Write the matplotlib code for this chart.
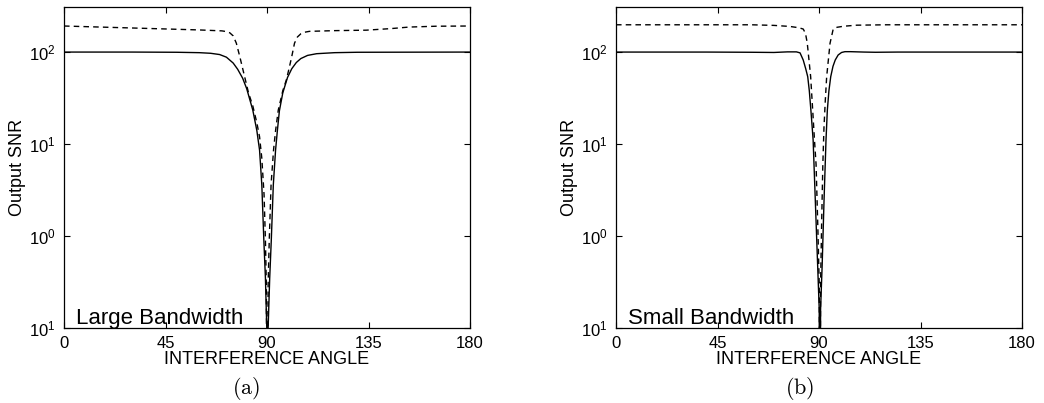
import numpy as np
import matplotlib
matplotlib.use("Agg")
import matplotlib.pyplot as plt
from matplotlib.ticker import FixedLocator, FixedFormatter, NullLocator

plt.rcParams["font.family"] = ["Liberation Sans", "DejaVu Sans"]
plt.rcParams["mathtext.fontset"] = "custom"
plt.rcParams["mathtext.rm"] = "Liberation Sans"
plt.rcParams["mathtext.it"] = "Liberation Sans:italic"

# (a) large bandwidth
ang_a_solid = [0, 30, 50, 60, 65, 69, 72, 75, 77, 79.2, 81, 83.7, 85.5, 86.7, 87.7,
               88.6, 89.3, 89.9, 90.1, 90.5, 91.2, 91.9, 92.8, 93.8, 94.6, 95.5, 97,
               99.1, 101, 103, 105, 108, 112, 120, 130, 180]
snr_a_solid = [100, 100, 99.5, 98.5, 97, 94, 88, 76, 65, 52, 40, 23.4, 14, 8.6, 3.6,
               0.9, 0.35, 0.1, 0.001, 0.1, 0.35, 0.9, 3.6, 8.6, 14, 23, 36,
               53, 66, 77, 85, 92, 96, 98.5, 99.5, 100]
ang_a_dash = [0, 36, 60, 70, 72, 73.5, 75, 76.4, 78, 80, 81.8, 83.7, 85.5, 86.7,
              87.7, 88.7, 89.3, 89.7, 90.1, 90.5, 91.0, 91.8, 92.9, 93.8, 95.0, 97,
              98.6, 100, 101, 102.2, 103.5, 105, 106.5, 108.8, 120, 134, 145, 153, 165, 180]
snr_a_dash = [192, 181, 174, 170, 167, 162, 150, 125, 88, 55, 36, 26, 17, 12,
              7, 2.8, 0.9, 0.3, 0.001, 0.3, 0.9, 3.6, 8.6, 14, 23.4, 38,
              50, 70, 90, 125, 146, 158, 164, 168, 171, 173, 180, 187, 191, 192]

# (b) small bandwidth
ang_b_solid = [0, 40, 60, 70, 76, 80, 81.6, 83, 84.1, 85.0, 85.7, 86.4, 87.0, 87.4,
               88.4, 89.4, 90.1, 90.4, 90.7, 91.4, 92.2, 93.1, 93.7, 94.4, 95.2, 96.2,
               97.2, 98.5, 100, 101.5, 104, 110, 115, 125, 180]
snr_b_solid = [100, 100, 99.5, 99, 100.5, 100.5, 98, 82, 66, 54, 38, 23.4, 15, 11,
               2.3, 0.48, 0.16, 0.001, 0.16, 0.48, 2.3, 11, 23.4, 38, 54, 70,
               82, 93, 99, 101, 101, 100, 99.5, 100, 100]
ang_b_dash = [0, 60, 70, 77, 81, 83, 84, 84.8, 85.6, 86.3, 87.2, 88.0, 88.7, 89.5,
              90.1, 90.4, 90.7, 91.2, 91.7, 92.2, 92.8, 93.4, 94.9, 96.3, 98, 101,
              106.7, 120, 180]
snr_b_dash = [198, 198, 195, 190, 184, 178, 160, 125, 80, 54, 23.4, 11, 6, 1.2,
              0.3, 0.001, 0.3, 1.5, 6, 15, 30, 54, 125, 178, 186, 191,
              196, 198, 198]

panels = [
    (ang_a_solid, snr_a_solid, ang_a_dash, snr_a_dash, "Large Bandwidth", "(a)"),
    (ang_b_solid, snr_b_solid, ang_b_dash, snr_b_dash, "Small Bandwidth", "(b)"),
]
xticks = [0, 45, 90, 135, 180]
yticks = [1e-1, 1e0, 1e1, 1e2]
ylabels = ["$10^{1}$", "$10^{0}$", "$10^{1}$", "$10^{2}$"]

fig = plt.figure(figsize=(10.44, 4.03), dpi=100)
lefts = [64 / 1044, 616 / 1044]
caption_x = [246 / 1044, 800 / 1044]

for i, (xs, ys, xd, yd, name, tag) in enumerate(panels):
    ax = fig.add_axes([lefts[i], 1 - 328 / 403, 406 / 1044, 321 / 403])
    ax.plot(xs, ys, color="black", lw=1.0)
    ax.plot(xd, yd, color="black", lw=1.0, linestyle=(0, (4, 3)))
    ax.set_yscale("log")
    ax.set_xlim(0, 180)
    ax.set_ylim(1e-1, 10 ** 2.49)
    ax.xaxis.set_major_locator(FixedLocator(xticks))
    ax.yaxis.set_major_locator(FixedLocator(yticks))
    ax.yaxis.set_major_formatter(FixedFormatter(ylabels))
    ax.yaxis.set_minor_locator(NullLocator())
    ax.tick_params(direction="in", top=True, right=True, length=4.5, width=0.8,
                   labelsize=12, pad=6)
    for s in ax.spines.values():
        s.set_linewidth(0.9)
    ax.set_xlabel("INTERFERENCE ANGLE", fontsize=13, labelpad=0)
    ax.set_ylabel("Output SNR", fontsize=13, labelpad=2)
    ax.text(0.0295, 0.0125, name, transform=ax.transAxes, fontsize=16,
            va="baseline", ha="left")
    fig.text(caption_x[i], 1 - 388 / 403, r"$\mathrm{" + tag + "}$", fontsize=16,
             ha="center", va="center", math_fontfamily="cm")

fig.savefig("out.png", dpi=100)
